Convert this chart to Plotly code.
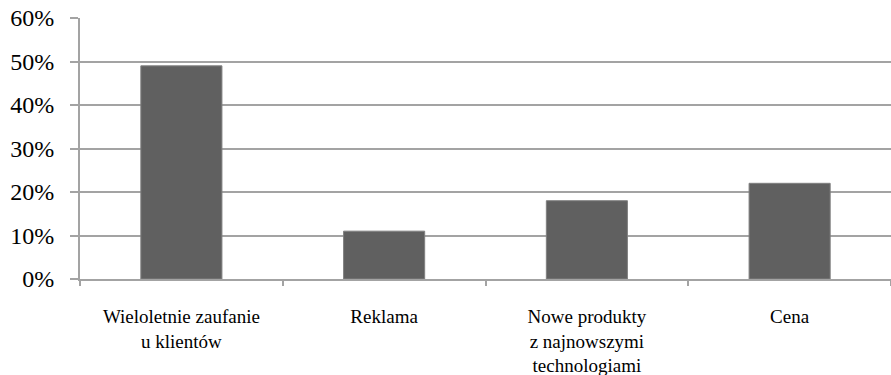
import plotly.graph_objects as go

# Czynniki wpływające na wybór firmy (udział odpowiedzi)
categories = [
    "Wieloletnie zaufanie<br>u klientów",
    "Reklama",
    "Nowe produkty<br>z najnowszymi<br>technologiami",
    "Cena",
]
shares = [0.49, 0.11, 0.18, 0.22]
y_ticks = [0, 0.1, 0.2, 0.3, 0.4, 0.5, 0.6]
y_tick_labels = ["0%", "10%", "20%", "30%", "40%", "50%", "60%"]

serif = "Liberation Serif"
grid = "#a3a3a3"

fig = go.Figure(
    go.Bar(
        x=categories,
        y=shares,
        marker=dict(color="#606060", line=dict(color="#808080", width=1)),
        width=0.4,
        hoverinfo="skip",
    )
)

fig.update_layout(
    width=891,
    height=375,
    margin=dict(l=80, r=0, t=18, b=96),
    paper_bgcolor="white",
    plot_bgcolor="white",
    showlegend=False,
    font=dict(family=serif, color="black"),
)

fig.update_xaxes(
    type="category",
    showline=True,
    linecolor=grid,
    linewidth=2,
    ticks="outside",
    tickson="boundaries",
    ticklen=5,
    tickcolor=grid,
    tickwidth=2,
    showgrid=False,
    tickfont=dict(family=serif, size=19, color="black"),
    ticklabelstandoff=19,
)

fig.update_yaxes(
    range=[0, 0.6],
    tickvals=y_ticks,
    ticktext=y_tick_labels,
    showline=True,
    linecolor=grid,
    linewidth=2,
    ticks="outside",
    ticklen=8,
    tickcolor=grid,
    tickwidth=2,
    showgrid=True,
    gridcolor=grid,
    gridwidth=2,
    zeroline=False,
    tickfont=dict(family=serif, size=24, color="black"),
    ticklabelstandoff=11,
)

fig.write_html("out.html")
